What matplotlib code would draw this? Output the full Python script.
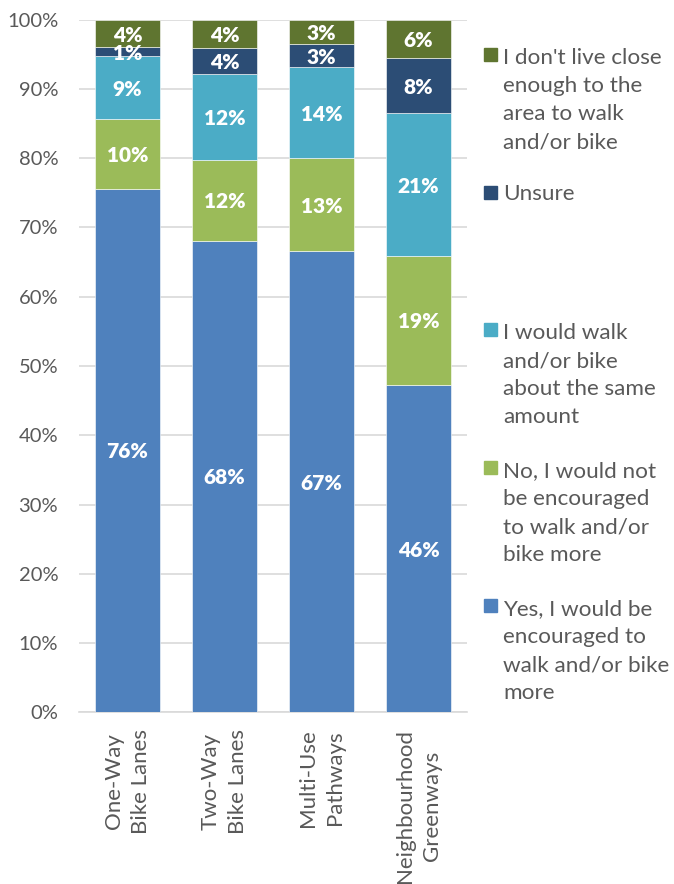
import matplotlib
matplotlib.use("Agg")
import matplotlib.pyplot as plt
from matplotlib.patches import Rectangle
import numpy as np

plt.rcParams['font.family'] = ['Lato', 'DejaVu Sans']

categories = ["One-Way\nBike Lanes", "Two-Way\nBike Lanes", "Multi-Use\nPathways", "Neighbourhood\nGreenways"]
series_names = [
    "Yes, I would be\nencouraged to\nwalk and/or bike\nmore",
    "No, I would not\nbe encouraged\nto walk and/or\nbike more",
    "I would walk\nand/or bike\nabout the same\namount",
    "Unsure",
    "I don't live close\nenough to the\narea to walk\nand/or bike",
]
colors = ["#4F81BD", "#9BBB59", "#4BACC6", "#2C4D75", "#5F7530"]

yes_vals = [75.6, 68.1, 66.6, 47.3]
no_vals = [10.0, 11.7, 13.4, 18.6]
same_vals = [9.2, 12.4, 13.1, 20.6]
unsure_vals = [1.2, 3.7, 3.4, 7.9]
far_vals = [4.0, 4.1, 3.5, 5.6]

yes_labels = ["76%", "68%", "67%", "46%"]
no_labels = ["10%", "12%", "13%", "19%"]
same_labels = ["9%", "12%", "14%", "21%"]
unsure_labels = ["1%", "4%", "3%", "8%"]
far_labels = ["4%", "4%", "3%", "6%"]

series = [yes_vals, no_vals, same_vals, unsure_vals, far_vals]
labels = [yes_labels, no_labels, same_labels, unsure_labels, far_labels]

W, H = 674, 884
fig = plt.figure(figsize=(W / 100, H / 100), dpi=100)
ax = fig.add_axes([79 / W, 1 - 712.3 / H, (467 - 79) / W, (712.3 - 19.7) / H])

x = np.arange(len(categories))
bottom = np.zeros(len(categories))
for vals, labs, col in zip(series, labels, colors):
    vals = np.array(vals)
    ax.bar(x, vals, 0.667, bottom=bottom, color=col, edgecolor="white", linewidth=0.4, zorder=3)
    for xi, b, v, lab in zip(x, bottom, vals, labs):
        ax.text(xi, b + v / 2, lab, ha="center", va="center_baseline", color="white",
                fontsize=15, fontweight="heavy", zorder=4)
    bottom += vals

ax.set_xlim(-0.5, 3.5)
ax.set_ylim(0, 100)
ax.set_yticks(np.arange(0, 101, 10))
ax.set_yticklabels([f"{v}%" for v in range(0, 101, 10)])
ax.yaxis.grid(True, color="#D9D9D9", linewidth=1.2, zorder=0)
ax.set_axisbelow(True)
for s in ["top", "right", "left"]:
    ax.spines[s].set_visible(False)
ax.spines["bottom"].set_color("#D9D9D9")
ax.spines["bottom"].set_linewidth(1.2)
ax.tick_params(axis="both", length=0, colors="#595959", labelsize=14.5)
ax.tick_params(axis="y", pad=15)
ax.set_xticks(x)
ax.set_xticklabels(categories, rotation=90, ha="center", va="top", multialignment="center",
                   fontsize=16, linespacing=1.45)
ax.tick_params(axis="x", pad=12)

# legend (manual)
line_h = 29.7
legend_y = [605, 467, 329, 192, 54]
for name, col, yc in zip(series_names, colors, legend_y):
    n = name.count("\n") + 1
    fig.patches.append(Rectangle((484 / W, 1 - (yc + 6.5) / H), 13 / W, 13 / H,
                                 transform=fig.transFigure, color=col))
    fig.text(503 / W, 1 - (yc + 1.5 + (n - 1) * line_h / 2) / H, name, ha="left", va="center",
             fontsize=16.2, color="#595959", linespacing=1.5)

fig.savefig("out.png", dpi=100)
